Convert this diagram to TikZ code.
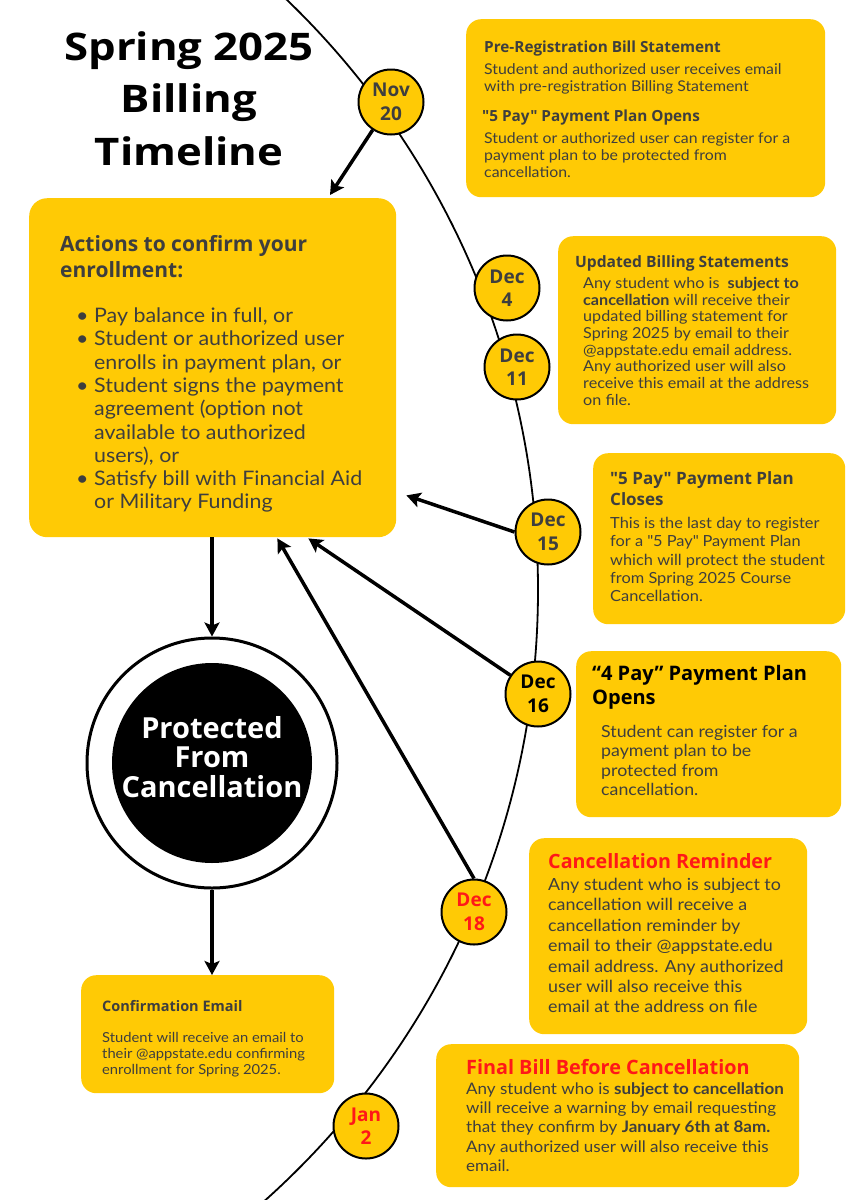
\documentclass[tikz,border=0pt]{standalone}
\usepackage{fontspec}
\setmainfont{Lato}[FakeStretch=1.07]
\newfontfamily\headfont{Open Sans}
\newfontfamily\titlefont{Open Sans}[FakeStretch=1.15]
\usetikzlibrary{arrows.meta,calc}
\definecolor{boxyellow}{RGB}{255,202,5}
\definecolor{inkgray}{RGB}{62,62,62}
\definecolor{alertred}{RGB}{255,24,24}
\newcommand\pxfont[2]{\fontsize{#1}{#2}\selectfont}

\begin{document}
\begin{tikzpicture}[x=1pt, y=-1pt,
    infobox/.style={fill=boxyellow, rounded corners=15pt, anchor=north west, inner sep=0pt},
    boxhead/.style 2 args={anchor=north west, inner sep=0pt, align=left, text=inkgray,
        font=\headfont\bfseries\pxfont{#1}{#2}},
    boxbody/.style 2 args={anchor=north west, inner sep=0pt, align=left, text=inkgray,
        font=\pxfont{#1}{#2}},
    datecircle/.style={circle, draw, line width=2pt, fill=boxyellow, minimum size=65pt,
        inner sep=0pt, align=center, font=\headfont\bfseries\pxfont{19}{23.5}},
    timeline/.style={line width=1.8pt},
    linkarrow/.style={line width=3.5pt, -{Stealth[length=14pt, width=15pt, inset=3pt]}},
]
    \useasboundingbox (0,0) rectangle (848,1200);

    % the timeline arc
    \begin{scope}
        \clip (0,0) rectangle (848,1200);
        \draw[timeline] (-281,590) circle[radius=819];
    \end{scope}

    \node[font=\titlefont\bfseries\pxfont{38}{52.5}, align=center, anchor=north, inner sep=0pt]
        (title) at (189,31) {Spring 2025\\Billing\\Timeline};

    % yellow boxes
    \foreach \nm/\bx/\by/\bw/\bh in {%
        prereg/466/19/359/178,%
        updated/558/236/278/188,%
        closes/593/453/252/171,%
        opens/576/651/265/166,%
        reminder/529/838/278/196,%
        finalbill/436/1044/363/143,%
        confirm/81/975/253/118%
    }{
        \node[infobox, minimum width=\bw pt, minimum height=\bh pt] (\nm) at (\bx,\by) {};
    }
    \node[infobox, rounded corners=18pt, minimum width=367pt, minimum height=339pt]
        (actions) at (29,198) {};

    % box texts
    \node[boxhead={15.3}{20}] (prehead) at (484,41) {Pre-Registration Bill Statement};
    \node[boxbody={14.8}{17.3}] (pretext) at (484,63)
        {Student and authorized user receives email\\with pre-registration Billing Statement};
    \node[boxhead={15.3}{20}] (openhead) at (482,110) {"5 Pay" Payment Plan Opens};
    \node[boxbody={14.8}{17.3}] (opentext) at (484,132)
        {Student or authorized user can register for a\\payment plan to be protected from\\cancellation.};

    \node[boxhead={21}{26}] (acthead) at (60,235) {Actions to confirm your\\enrollment:};
    \node[anchor=north west, inner sep=0pt, text=inkgray, font=\pxfont{20}{23.3}] (actlist) at (76,306) {%
        \begin{tabular}{@{}l@{}l@{}}
        \makebox[18pt][l]{\textbullet} & Pay balance in full, or\\
        \makebox[18pt][l]{\textbullet} & Student or authorized user\\
         & enrolls in payment plan, or\\
        \makebox[18pt][l]{\textbullet} & Student signs the payment\\
         & agreement (option not\\
         & available to authorized\\
         & users), or\\
        \makebox[18pt][l]{\textbullet} & Satisfy bill with Financial Aid\\
         & or Military Funding
        \end{tabular}};

    \node[boxhead={15.6}{20}] (updhead) at (575,255) {Updated Billing Statements};
    \node[boxbody={15.1}{16.7}] (updtext) at (583,277)
        {Any student who is \ \textbf{subject to}\\\textbf{cancellation} will receive their\\updated billing statement for\\Spring 2025 by email to their\\@appstate.edu email address.\\Any authorized user will also\\receive this email at the address\\on file.};

    \node[boxhead={17}{21}] (closehead) at (610,471) {"5 Pay" Payment Plan\\Closes};
    \node[boxbody={15.3}{18.3}] (closetext) at (610,517)
        {This is the last day to register\\for a \textquotedbl 5 Pay\textquotedbl\ Payment Plan\\which will protect the student\\from Spring 2025 Course\\Cancellation.};

    \node[boxhead={20}{24}, text=black] (fourhead) at (592,665) {“4 Pay” Payment Plan\\Opens};
    \node[boxbody={16.6}{19.3}] (fourtext) at (601,725)
        {Student can register for a\\payment plan to be\\protected from\\cancellation.};

    \node[boxhead={19.7}{24}, text=alertred] (remhead) at (548,853) {Cancellation Reminder};
    \node[boxbody={16.7}{20.4}] (remtext) at (548,878)
        {Any student who is subject to\\cancellation will receive a\\cancellation reminder by\\email to their @appstate.edu\\email address. Any authorized\\user will also receive this\\email at the address on file};

    \node[boxhead={19.8}{24}, text=alertred] (finhead) at (466,1059) {Final Bill Before Cancellation};
    \node[boxbody={15.9}{19.4}] (fintext) at (466,1082)
        {Any student who is \textbf{subject to cancellation}\\will receive a warning by email requesting\\that they confirm by \textbf{January 6th at 8am.}\\Any authorized user will also receive this\\email.};

    \node[boxhead={14.5}{18}] (confhead) at (102,1000) {Confirmation Email};
    \node[boxbody={13.8}{16.2}] (conftext) at (102,1032)
        {Student will receive an email to\\their @appstate.edu confirming\\enrollment for Spring 2025.};

    % protected badge
    \node[circle, draw, line width=3pt, minimum size=250pt, inner sep=0pt] (ring) at (212,763) {};
    \node[circle, fill=black, minimum size=200pt, inner sep=0pt] (disc) at (212,763) {};
    \node[align=center, text=white, font=\headfont\bfseries\pxfont{29}{29.5}, inner sep=0pt]
        (prottext) at (212,757) {Protected\\From\\Cancellation};

    % dates on the arc
    \foreach \nm/\cx/\cy/\mon/\dd/\col in {%
        nov20/391/102/Nov/20/inkgray,%
        dec04/507/288/Dec/4/inkgray,%
        dec11/517/367/Dec/11/inkgray,%
        dec15/548/532/Dec/15/inkgray,%
        dec16/538/694/Dec/16/black,%
        dec18/474/912/Dec/18/alertred,%
        jan02/366/1126/Jan/2/alertred%
    }{
        \node[datecircle, text=\col] (\nm) at (\cx,\cy) {\mon\\\dd};
    }

    % arrows
    \draw[linkarrow] (nov20) -- ($(actions.north west)+(301,-3)$);
    \draw[linkarrow] (dec15.west) -- ($(actions.south east)+(10,-42)$);
    \draw[linkarrow] (dec16) -- ($(actions.south east)+(-88,1)$);
    \draw[linkarrow] (dec18.north) -- ($(actions.south east)+(-119,1)$);
    \draw[linkarrow] (actions.south -| ring.north) -- (ring.north);
    \draw[linkarrow] (ring.south) -- (ring.south |- confirm.north);
\end{tikzpicture}
\end{document}
